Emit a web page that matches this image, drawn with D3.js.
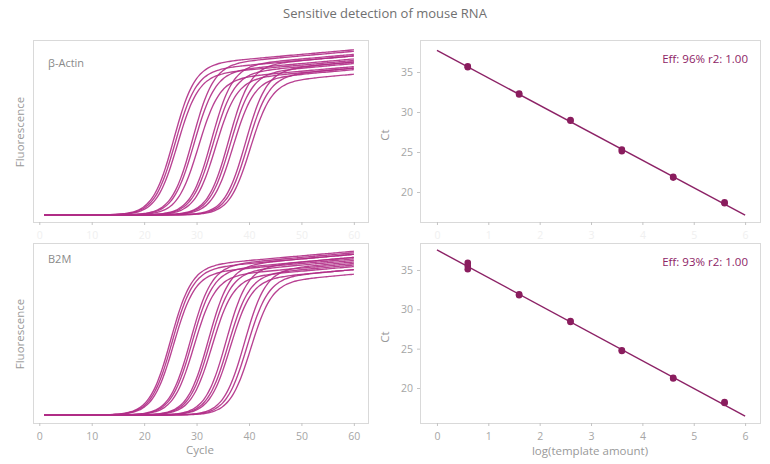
<!DOCTYPE html>
<meta charset="utf-8">
<style>
    body { margin: 0; background: #fff; }
    text { font-family: "Open Sans", sans-serif; }
    .frame { fill: none; stroke: #d9d9d9; stroke-width: 1px; }
    .tick line { stroke: #c4c4c4; }
    .tick text { fill: #a6a6a6; font-size: 10.5px; }
    .faint .tick text { fill: #f0f0f0; }
    .domain { display: none; }
    .curve { fill: none; stroke: #b02c86; stroke-width: 1.35px; stroke-opacity: .9; }
    .fit { stroke: #8c2266; stroke-width: 1.4px; }
    .dot { fill: #8a1d5e; }
    .lab { fill: #999; font-size: 11.5px; }
</style>

<body>
<svg width="770" height="464"></svg>
<script src="https://cdn.jsdelivr.net/npm/d3@7"></script>
<script>
    // amplification curves: midpoint cycle and end plateau
    var actinMid     = [25.6, 25.9, 26.3, 29.2, 29.5, 30.3, 32.8, 33.1, 33.6, 36.1, 36.4, 36.9, 39.3, 39.7, 40.2]
    var actinPlateau = [1.08, 1.04, 1.01, 1.07, 1.02, 0.97, 1.05, 1.00, 0.96, 1.04, 0.99, 0.95, 1.00, 0.96, 0.92]
    var b2mMid       = [25.0, 25.3, 25.6, 28.8, 29.1, 29.5, 32.2, 32.5, 32.9, 35.6, 36.0, 36.4, 39.1, 39.6, 40.3]
    var b2mPlateau   = [1.07, 1.05, 1.02, 1.06, 1.03, 0.99, 1.05, 1.01, 0.97, 1.03, 0.98, 0.95, 1.00, 0.95, 0.92]
    var curveWidth = 2.0
    var plateauDrift = 0.003

    // standard curves
    var logAmount = [0.6, 1.6, 2.6, 3.6, 4.6, 5.6]
    var actinCt = [[35.7, 35.6], [32.3, 32.2], [29.0, 28.9], [25.3, 25.1], [21.9, 21.8], [18.7, 18.6]]
    var b2mCt   = [[35.9, 35.5, 35.1], [31.9, 31.8], [28.5, 28.4], [24.8, 24.7], [21.3, 21.2], [18.2, 18.1]]
    var actinFit = [37.7, -3.43]
    var b2mFit   = [37.55, -3.52]
    var actinNote = "Eff: 96% r2: 1.00"
    var b2mNote   = "Eff: 93% r2: 1.00"

    var cycleTicks = [0, 10, 20, 30, 40, 50, 60]
    var logTicks = [0, 1, 2, 3, 4, 5, 6]
    var ctTicks = [20, 25, 30, 35]

    var svg = d3.select("svg")
    var fmt = d3.format("d")

    svg.append("text")
        .attr("x", 385).attr("y", 18)
        .attr("text-anchor", "middle")
        .attr("fill", "#707070")
        .style("font-size", "13px")
        .text("Sensitive detection of mouse RNA")

    var cycles = d3.range(1, 60.01, 0.5)

    function curvePanel(top, bottom, yDom, mids, plateaus, name, nameY, lastRow) {
        var x = d3.scaleLinear().domain([-1.2, 62.7]).range([33, 368])
        var y = d3.scaleLinear().domain(yDom).range([bottom, top])
        var g = svg.append("g")

        g.append("rect").attr("class", "frame")
            .attr("x", 33.5).attr("y", top + .5)
            .attr("width", 335).attr("height", bottom - top)

        g.append("g")
            .attr("class", lastRow ? "" : "faint")
            .attr("transform", `translate(0,${bottom})`)
            .call(d3.axisBottom(x).tickValues(cycleTicks).tickFormat(fmt).tickSize(3).tickPadding(7))

        var line = d3.line()
            .x(d => x(d[0]))
            .y(d => y(d[1]))
            .curve(d3.curveMonotoneX)

        mids.forEach(function(m, i) {
            var pts = cycles.map(function(c) {
                var l = 1 / (1 + Math.exp(-(c - m) / curveWidth))
                return [c, l * (plateaus[i] - plateauDrift * (60 - c))]
            })
            g.append("path").attr("class", "curve").attr("d", line(pts))
        })

        g.append("text")
            .attr("x", 48).attr("y", top + nameY)
            .attr("fill", "#8a8a8a")
            .style("font-size", "11px")
            .text(name)

        g.append("text").attr("class", "lab")
            .attr("transform", `translate(24,${(top + bottom) / 2 + 1}) rotate(-90)`)
            .attr("text-anchor", "middle")
            .text("Fluorescence")

        if (lastRow) {
            g.append("text").attr("class", "lab")
                .attr("x", 200).attr("y", bottom + 31)
                .attr("text-anchor", "middle")
                .text("Cycle")
        }
    }

    function stdPanel(top, bottom, yDom, cts, fit, note, lastRow) {
        var x = d3.scaleLinear().domain([-0.33, 6.29]).range([420, 760])
        var y = d3.scaleLinear().domain(yDom).range([bottom, top])
        var g = svg.append("g")

        g.append("rect").attr("class", "frame")
            .attr("x", 420.5).attr("y", top + .5)
            .attr("width", 340).attr("height", bottom - top)

        g.append("g")
            .attr("class", lastRow ? "" : "faint")
            .attr("transform", `translate(0,${bottom})`)
            .call(d3.axisBottom(x).tickValues(logTicks).tickFormat(fmt).tickSize(3).tickPadding(7))

        g.append("g")
            .attr("transform", "translate(420,0)")
            .call(d3.axisLeft(y).tickValues(ctTicks).tickFormat(fmt).tickSize(3).tickPadding(4))

        g.append("line").attr("class", "fit")
            .attr("x1", x(0)).attr("y1", y(fit[0]))
            .attr("x2", x(6)).attr("y2", y(fit[0] + fit[1] * 6))

        cts.forEach(function(reps, i) {
            reps.forEach(function(v) {
                g.append("circle").attr("class", "dot")
                    .attr("cx", x(logAmount[i])).attr("cy", y(v)).attr("r", 3.3)
            })
        })

        g.append("text")
            .attr("x", 748).attr("y", top + 23)
            .attr("text-anchor", "end")
            .attr("fill", "#8e2466")
            .style("font-size", "11.5px")
            .text(note)

        g.append("text").attr("class", "lab")
            .attr("transform", `translate(389,${(top + bottom) / 2 + 4}) rotate(-90)`)
            .attr("text-anchor", "middle")
            .text("Ct")

        if (lastRow) {
            g.append("text").attr("class", "lab")
                .attr("x", 590).attr("y", bottom + 32)
                .attr("text-anchor", "middle")
                .text("log(template amount)")
        }
    }

    curvePanel(40, 222, [-0.046, 1.144], actinMid, actinPlateau, "β-Actin", 27, false)
    curvePanel(243, 423, [-0.052, 1.124], b2mMid, b2mPlateau, "B2M", 20, true)
    stdPanel(40, 222, [16.25, 39], actinCt, actinFit, actinNote, false)
    stdPanel(243, 423, [15.55, 38.43], b2mCt, b2mFit, b2mNote, true)
</script>
</body>
